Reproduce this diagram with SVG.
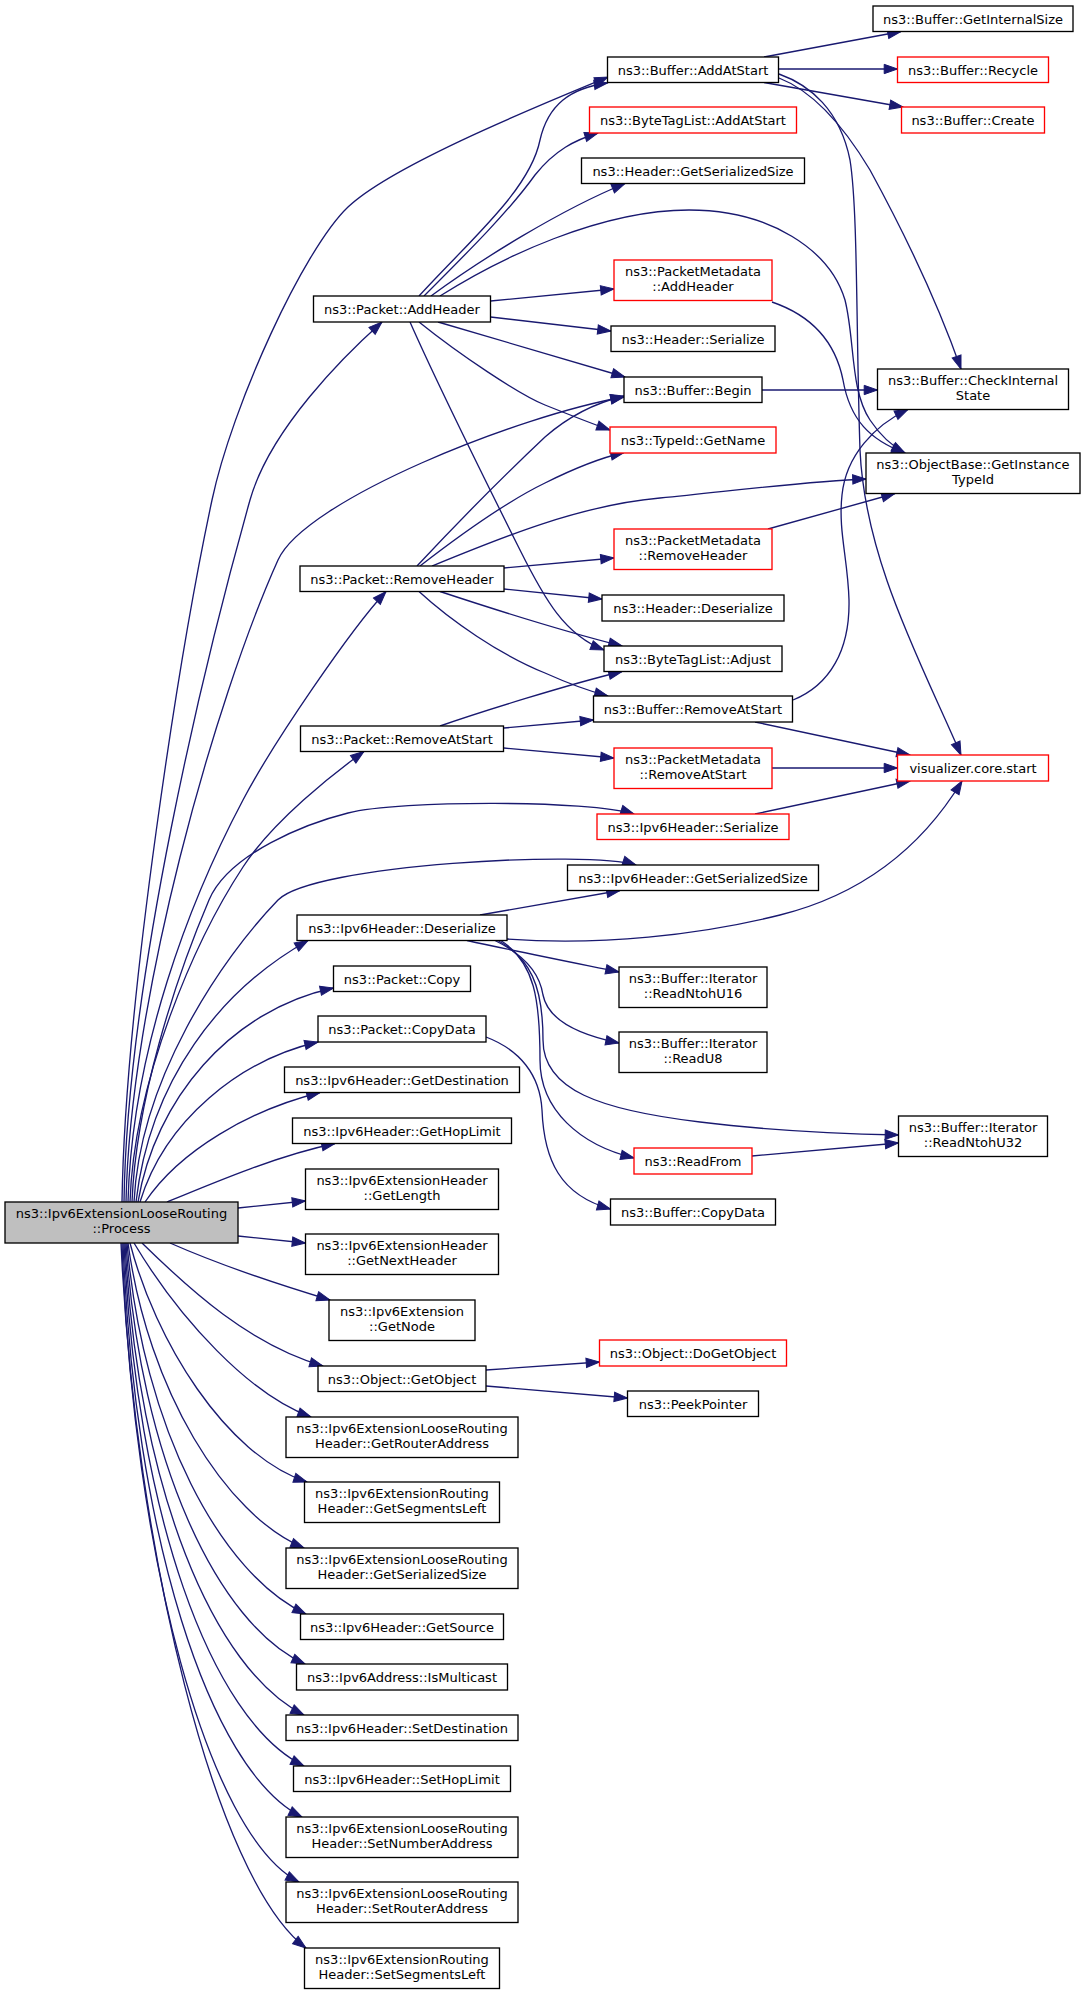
<svg xmlns="http://www.w3.org/2000/svg" width="1085" height="1993" viewBox="0 0 1085 1993">
<style>
.n rect{fill:#ffffff;stroke:#000000;stroke-width:1.33}
.n.r rect{stroke:#ff0000}
.n.m rect{fill:#bfbfbf}
.n text{font-family:"DejaVu Sans","Liberation Sans",sans-serif;font-size:13px;text-anchor:middle;fill:#000000}
#edges path{fill:none;stroke:#191970;stroke-width:1.33;marker-end:url(#a)}
</style>
<defs>
<marker id="a" markerUnits="userSpaceOnUse" markerWidth="16" markerHeight="12" refX="13.3" refY="4.67" orient="auto" overflow="visible">
<path d="M0,0 L13.3,4.67 L0,9.33 Z" fill="#191970" stroke="#191970" stroke-width="1"/>
</marker>
</defs>
<rect x="0" y="0" width="1085" height="1993" fill="#ffffff"/>
<g id="edges">
<path d="M122,1202 C125,1000 180,650 212,500 C232,406 303,250 348,207 C393,164 548,102 608,77"/>
<path d="M124,1202 C127,980 205,660 250,500 C270,429 345,355 382,322"/>
<path d="M126,1202 C130,1000 215,700 278,560 C305,500 520,415 624,397"/>
<path d="M128,1202 C132,1050 190,900 243,800 C273,743 351,629 386,591.5"/>
<path d="M130,1202 C134,1080 195,940 243,867 C273,821 334,773 364,751.5"/>
<path d="M132,1202 C136,1100 175,980 209,900 C229,853 308,823 348,813 C400,800 590,800 634,814"/>
<path d="M134,1202 C140,1080 220,960 278,900 C313,864 590,850 636,865"/>
<path d="M136,1202 C150,1080 220,990 308,940.5"/>
<path d="M138,1202 C155,1100 230,1010 333.5,988"/>
<path d="M140,1202 C165,1120 240,1060 318,1042"/>
<path d="M145,1202 C180,1150 250,1110 320,1092.5"/>
<path d="M167,1202 C220,1180 280,1155 335,1143.5"/>
<path d="M238,1208 L305.5,1201"/>
<path d="M238,1236 L305.5,1243"/>
<path d="M170,1243 C220,1265 280,1285 330,1300"/>
<path d="M142,1243 C190,1290 250,1345 323,1366"/>
<path d="M134,1243 C180,1320 250,1395 311,1417"/>
<path d="M130,1243 C155,1340 225,1455 307,1482"/>
<path d="M128,1243 C148,1390 225,1515 304,1548"/>
<path d="M127,1243 C143,1430 222,1575 306,1614"/>
<path d="M126,1243 C140,1460 218,1625 305,1664"/>
<path d="M125,1243 C138,1490 214,1670 304,1715"/>
<path d="M124,1243 C136,1510 210,1720 304,1766"/>
<path d="M123,1243 C134,1530 208,1770 302,1817"/>
<path d="M122,1243 C133,1555 208,1835 299,1882"/>
<path d="M121,1243 C135,1550 215,1880 306,1948"/>
<path d="M419,296 C470,240 530,190 540,140 C548,105 570,88 607.5,83"/>
<path d="M424,296 C470,250 510,210 535,175 C555,150 575,140 598,133"/>
<path d="M431,296 C480,260 560,210 625,183.5"/>
<path d="M440,296 C500,258 600,210 689,210 C770,210 830,250 845,300 C855,340 850,390 870,420 C880,435 890,445 905,453"/>
<path d="M490.5,301 L614,289"/>
<path d="M490.5,317 L611,331"/>
<path d="M438,322 L625,377"/>
<path d="M419,322 C460,355 520,395 545,405 C570,415 590,423 610,430"/>
<path d="M410,322 C440,390 490,490 520,550 C545,600 565,635 604,650"/>
<path d="M772,302 C810,315 835,340 843,380 C850,420 870,440 905,453"/>
<path d="M417,566 C460,520 510,470 545,437 C570,415 595,403 624,396"/>
<path d="M420,566 C460,535 510,500 545,483 C575,468 600,458 624,452.5"/>
<path d="M432,566 C500,538 580,505 660,498 C740,490 810,481 866,479"/>
<path d="M504,568 L614,558"/>
<path d="M504,589 L602,599"/>
<path d="M440,591.5 C490,608 570,633 622,646"/>
<path d="M419,591.5 C450,620 500,655 545,673 C565,682 585,690 608,696"/>
<path d="M768,529 L895,493.5"/>
<path d="M440,726 C480,712 570,684 622,671.5"/>
<path d="M504,728 L593.5,720"/>
<path d="M504,748 L614,758"/>
<path d="M764,57 L901,31.5"/>
<path d="M779,69 L897.5,69"/>
<path d="M764,82.5 L903,107"/>
<path d="M779,78 C810,90 840,120 870,170 C900,225 935,295 961,369"/>
<path d="M779,74 C810,85 840,110 850,160 C858,210 856,330 860,450 C865,560 920,660 961,755"/>
<path d="M762,390 L877.5,390"/>
<path d="M793,700 C830,685 850,650 849,600 C848,560 838,530 842,495 C846,455 875,425 908,409.5"/>
<path d="M755,722 L910,755"/>
<path d="M772,768 L897.5,768"/>
<path d="M755,814 L910,781"/>
<path d="M507,939 C600,946 700,935 780,915 C860,895 920,850 962,781"/>
<path d="M480,915 L620,890.5"/>
<path d="M467,940.5 C510,950 570,962 619,972"/>
<path d="M494,940 C525,955 540,975 543,995 C548,1020 580,1035 619,1043"/>
<path d="M497,940 C530,958 543,985 543,1040 C543,1090 600,1110 700,1122 C780,1132 850,1134 898.5,1135"/>
<path d="M500,940 C535,962 540,1000 540,1060 C540,1110 580,1145 634,1158"/>
<path d="M486,1037 C520,1050 540,1075 542,1110 C544,1160 560,1195 610.5,1209"/>
<path d="M752,1156 L898.5,1143"/>
<path d="M486,1370 L599.5,1362"/>
<path d="M486,1386 L627.5,1398"/>
</g>
<g id="process" class="n m"><rect x="5" y="1202" width="233" height="41"/><text x="121.5" y="1218">ns3::Ipv6ExtensionLooseRouting</text><text x="121.5" y="1233">::Process</text></g>
<g id="pktAddHeader" class="n"><rect x="313.5" y="296" width="177" height="26"/><text x="402" y="313.5">ns3::Packet::AddHeader</text></g>
<g id="pktRemoveHeader" class="n"><rect x="300" y="566" width="204" height="25.5"/><text x="402" y="583.5">ns3::Packet::RemoveHeader</text></g>
<g id="pktRemoveAtStart" class="n"><rect x="300.5" y="726" width="203" height="25.5"/><text x="402" y="743.5">ns3::Packet::RemoveAtStart</text></g>
<g id="ipv6Deserialize" class="n"><rect x="297" y="915" width="210" height="25.5"/><text x="402" y="932.5">ns3::Ipv6Header::Deserialize</text></g>
<g id="pktCopy" class="n"><rect x="333.5" y="966" width="137" height="25.5"/><text x="402" y="983.5">ns3::Packet::Copy</text></g>
<g id="pktCopyData" class="n"><rect x="318" y="1016" width="168" height="26"/><text x="402" y="1033.5">ns3::Packet::CopyData</text></g>
<g id="getDestination" class="n"><rect x="284.5" y="1067" width="235" height="25.5"/><text x="402" y="1084.5">ns3::Ipv6Header::GetDestination</text></g>
<g id="getHopLimit" class="n"><rect x="292.5" y="1118" width="219" height="25.5"/><text x="402" y="1135.5">ns3::Ipv6Header::GetHopLimit</text></g>
<g id="getLength" class="n"><rect x="305.5" y="1169" width="193" height="40.5"/><text x="402" y="1185">ns3::Ipv6ExtensionHeader</text><text x="402" y="1200">::GetLength</text></g>
<g id="getNextHeader" class="n"><rect x="305.5" y="1234" width="193" height="40.5"/><text x="402" y="1250">ns3::Ipv6ExtensionHeader</text><text x="402" y="1265">::GetNextHeader</text></g>
<g id="getNode" class="n"><rect x="329" y="1300" width="146" height="40.5"/><text x="402" y="1316">ns3::Ipv6Extension</text><text x="402" y="1331">::GetNode</text></g>
<g id="getObject" class="n"><rect x="318" y="1366" width="168" height="25.5"/><text x="402" y="1383.5">ns3::Object::GetObject</text></g>
<g id="getRouterAddress" class="n"><rect x="286" y="1417" width="232" height="40.5"/><text x="402" y="1433">ns3::Ipv6ExtensionLooseRouting</text><text x="402" y="1448">Header::GetRouterAddress</text></g>
<g id="getSegmentsLeft" class="n"><rect x="304.5" y="1482" width="195" height="40.5"/><text x="402" y="1498">ns3::Ipv6ExtensionRouting</text><text x="402" y="1513">Header::GetSegmentsLeft</text></g>
<g id="getSerSizeLR" class="n"><rect x="286" y="1548" width="232" height="40.5"/><text x="402" y="1564">ns3::Ipv6ExtensionLooseRouting</text><text x="402" y="1579">Header::GetSerializedSize</text></g>
<g id="getSource" class="n"><rect x="300.5" y="1614" width="203" height="25.5"/><text x="402" y="1631.5">ns3::Ipv6Header::GetSource</text></g>
<g id="isMulticast" class="n"><rect x="296.5" y="1664" width="211" height="26"/><text x="402" y="1681.5">ns3::Ipv6Address::IsMulticast</text></g>
<g id="setDestination" class="n"><rect x="286" y="1715" width="232" height="25.5"/><text x="402" y="1732.5">ns3::Ipv6Header::SetDestination</text></g>
<g id="setHopLimit" class="n"><rect x="293.5" y="1766" width="217" height="25.5"/><text x="402" y="1783.5">ns3::Ipv6Header::SetHopLimit</text></g>
<g id="setNumberAddress" class="n"><rect x="286" y="1817" width="232" height="40.5"/><text x="402" y="1833">ns3::Ipv6ExtensionLooseRouting</text><text x="402" y="1848">Header::SetNumberAddress</text></g>
<g id="setRouterAddress" class="n"><rect x="286" y="1882" width="232" height="40.5"/><text x="402" y="1898">ns3::Ipv6ExtensionLooseRouting</text><text x="402" y="1913">Header::SetRouterAddress</text></g>
<g id="setSegmentsLeft" class="n"><rect x="304.5" y="1948" width="195" height="40.5"/><text x="402" y="1964">ns3::Ipv6ExtensionRouting</text><text x="402" y="1979">Header::SetSegmentsLeft</text></g>
<g id="bufAddAtStart" class="n"><rect x="607.5" y="57" width="171" height="25.5"/><text x="693" y="74.5">ns3::Buffer::AddAtStart</text></g>
<g id="btlAddAtStart" class="n r"><rect x="589.5" y="107" width="207" height="26"/><text x="693" y="124.5">ns3::ByteTagList::AddAtStart</text></g>
<g id="hdrGetSerSize" class="n"><rect x="581.5" y="158" width="223" height="25.5"/><text x="693" y="175.5">ns3::Header::GetSerializedSize</text></g>
<g id="pmAddHeader" class="n r"><rect x="614" y="260" width="158" height="40.5"/><text x="693" y="276">ns3::PacketMetadata</text><text x="693" y="291">::AddHeader</text></g>
<g id="hdrSerialize" class="n"><rect x="611" y="326" width="164" height="25.5"/><text x="693" y="343.5">ns3::Header::Serialize</text></g>
<g id="bufBegin" class="n"><rect x="624" y="377" width="138" height="25.5"/><text x="693" y="394.5">ns3::Buffer::Begin</text></g>
<g id="typeIdGetName" class="n r"><rect x="610" y="427" width="166" height="26"/><text x="693" y="444.5">ns3::TypeId::GetName</text></g>
<g id="pmRemoveHeader" class="n r"><rect x="614" y="529" width="158" height="40.5"/><text x="693" y="545">ns3::PacketMetadata</text><text x="693" y="560">::RemoveHeader</text></g>
<g id="hdrDeserialize" class="n"><rect x="602" y="595" width="182" height="26"/><text x="693" y="612.5">ns3::Header::Deserialize</text></g>
<g id="btlAdjust" class="n"><rect x="604" y="646" width="178" height="25.5"/><text x="693" y="663.5">ns3::ByteTagList::Adjust</text></g>
<g id="bufRemoveAtStart" class="n"><rect x="593.5" y="696" width="199" height="26"/><text x="693" y="713.5">ns3::Buffer::RemoveAtStart</text></g>
<g id="pmRemoveAtStart" class="n r"><rect x="614" y="748" width="158" height="40.5"/><text x="693" y="764">ns3::PacketMetadata</text><text x="693" y="779">::RemoveAtStart</text></g>
<g id="ipv6Serialize" class="n r"><rect x="597" y="814" width="192" height="25.5"/><text x="693" y="831.5">ns3::Ipv6Header::Serialize</text></g>
<g id="ipv6GetSerSize" class="n"><rect x="567.5" y="865" width="251" height="25.5"/><text x="693" y="882.5">ns3::Ipv6Header::GetSerializedSize</text></g>
<g id="readNtohU16" class="n"><rect x="619" y="967" width="148" height="40.5"/><text x="693" y="983">ns3::Buffer::Iterator</text><text x="693" y="998">::ReadNtohU16</text></g>
<g id="readU8" class="n"><rect x="619" y="1032" width="148" height="40.5"/><text x="693" y="1048">ns3::Buffer::Iterator</text><text x="693" y="1063">::ReadU8</text></g>
<g id="readFrom" class="n r"><rect x="634" y="1148" width="118" height="26"/><text x="693" y="1165.5">ns3::ReadFrom</text></g>
<g id="bufCopyData" class="n"><rect x="610.5" y="1199" width="165" height="26"/><text x="693" y="1216.5">ns3::Buffer::CopyData</text></g>
<g id="doGetObject" class="n r"><rect x="599.5" y="1340" width="187" height="26"/><text x="693" y="1357.5">ns3::Object::DoGetObject</text></g>
<g id="peekPointer" class="n"><rect x="627.5" y="1391" width="131" height="25.5"/><text x="693" y="1408.5">ns3::PeekPointer</text></g>
<g id="getInternalSize" class="n"><rect x="873" y="6" width="200" height="25.5"/><text x="973" y="23.5">ns3::Buffer::GetInternalSize</text></g>
<g id="recycle" class="n r"><rect x="897.5" y="57" width="151" height="25.5"/><text x="973" y="74.5">ns3::Buffer::Recycle</text></g>
<g id="create" class="n r"><rect x="901.5" y="107" width="143" height="26"/><text x="973" y="124.5">ns3::Buffer::Create</text></g>
<g id="checkInternal" class="n"><rect x="877.5" y="369" width="191" height="40.5"/><text x="973" y="385">ns3::Buffer::CheckInternal</text><text x="973" y="400">State</text></g>
<g id="getInstanceTypeId" class="n"><rect x="866" y="453" width="214" height="40.5"/><text x="973" y="469">ns3::ObjectBase::GetInstance</text><text x="973" y="484">TypeId</text></g>
<g id="visStart" class="n r"><rect x="897.5" y="755" width="151" height="26"/><text x="973" y="772.5">visualizer.core.start</text></g>
<g id="readNtohU32" class="n"><rect x="898.5" y="1116" width="149" height="40.5"/><text x="973" y="1132">ns3::Buffer::Iterator</text><text x="973" y="1147">::ReadNtohU32</text></g>
</svg>
